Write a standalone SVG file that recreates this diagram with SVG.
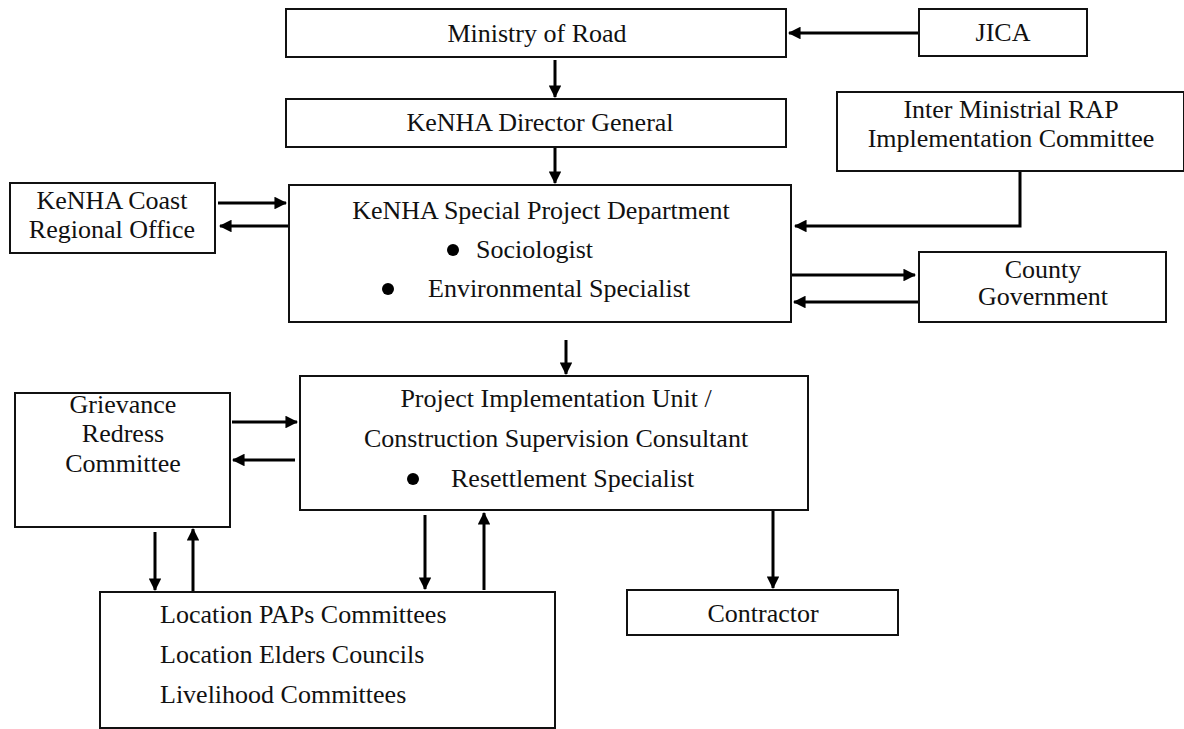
<svg xmlns="http://www.w3.org/2000/svg" width="1184" height="729" viewBox="0 0 1184 729">
<style>
.box{fill:#fff;stroke:#111;stroke-width:2}
text{font-family:"Liberation Serif","Times New Roman",serif;font-size:26px;fill:#111}
.c{text-anchor:middle}
.conn{stroke:#000;stroke-width:3;fill:none;marker-end:url(#ah)}
</style>
<defs>
<marker id="ah" viewBox="0 0 12 12" refX="11" refY="6" markerWidth="4.2" markerHeight="4.2" markerUnits="strokeWidth" orient="auto">
<path d="M0,0 L12,6 L0,12 z" fill="#000"/>
</marker>
</defs>
<rect width="1184" height="729" fill="#fff"/>
<g id="connectors">
<path class="conn" d="M919,33 H789"/>
<path class="conn" d="M555,60 V97"/>
<path class="conn" d="M555,148 V183"/>
<path class="conn" d="M218,203 H286"/>
<path class="conn" d="M289,226 H220"/>
<path class="conn" d="M1020,171 V226 H795"/>
<path class="conn" d="M792,275 H915"/>
<path class="conn" d="M919,302 H794"/>
<path class="conn" d="M566,340 V374"/>
<path class="conn" d="M232,422 H297"/>
<path class="conn" d="M295,460 H233"/>
<path class="conn" d="M155,532 V590"/>
<path class="conn" d="M193,591 V529"/>
<path class="conn" d="M425,515 V589"/>
<path class="conn" d="M484,590 V513"/>
<path class="conn" d="M773,511 V588"/>
</g>
<g id="ministry"><rect class="box" x="286" y="9" width="500" height="48"/><text class="c" x="537" y="42">Ministry of Road</text></g>
<g id="jica"><rect class="box" x="919" y="9" width="168" height="47"/><text class="c" x="1003" y="41">JICA</text></g>
<g id="director"><rect class="box" x="286" y="99" width="500" height="48"/><text class="c" x="540" y="131">KeNHA Director General</text></g>
<g id="inter"><rect class="box" x="837" y="92" width="347" height="79"/><text class="c" x="1011" y="118">Inter Ministrial RAP</text><text class="c" x="1011" y="147">Implementation Committee</text></g>
<g id="coast"><rect class="box" x="10" y="183" width="205" height="70"/><text class="c" x="112" y="209">KeNHA Coast</text><text class="c" x="112" y="238">Regional Office</text></g>
<g id="special"><rect class="box" x="289" y="185" width="502" height="137"/><text class="c" x="541" y="219">KeNHA Special Project Department</text><circle cx="453" cy="250" r="6" fill="#000"/><text x="476" y="258">Sociologist</text><circle cx="388" cy="289" r="6" fill="#000"/><text x="428" y="297">Environmental Specialist</text></g>
<g id="county"><rect class="box" x="919" y="252" width="247" height="70"/><text class="c" x="1043" y="278">County</text><text class="c" x="1043" y="305">Government</text></g>
<g id="grievance"><rect class="box" x="15" y="393" width="215" height="134"/><text class="c" x="123" y="413">Grievance</text><text class="c" x="123" y="442">Redress</text><text class="c" x="123" y="472">Committee</text></g>
<g id="piu"><rect class="box" x="300" y="376" width="508" height="134"/><text class="c" x="556" y="407">Project Implementation Unit /</text><text class="c" x="556" y="447">Construction Supervision Consultant</text><circle cx="413" cy="479" r="6" fill="#000"/><text x="451" y="487">Resettlement Specialist</text></g>
<g id="contractor"><rect class="box" x="627" y="590" width="271" height="45"/><text class="c" x="763" y="622">Contractor</text></g>
<g id="location"><rect class="box" x="100" y="592" width="455" height="136"/><text x="160" y="623">Location PAPs Committees</text><text x="160" y="663">Location Elders Councils</text><text x="160" y="703">Livelihood Committees</text></g>
</svg>
